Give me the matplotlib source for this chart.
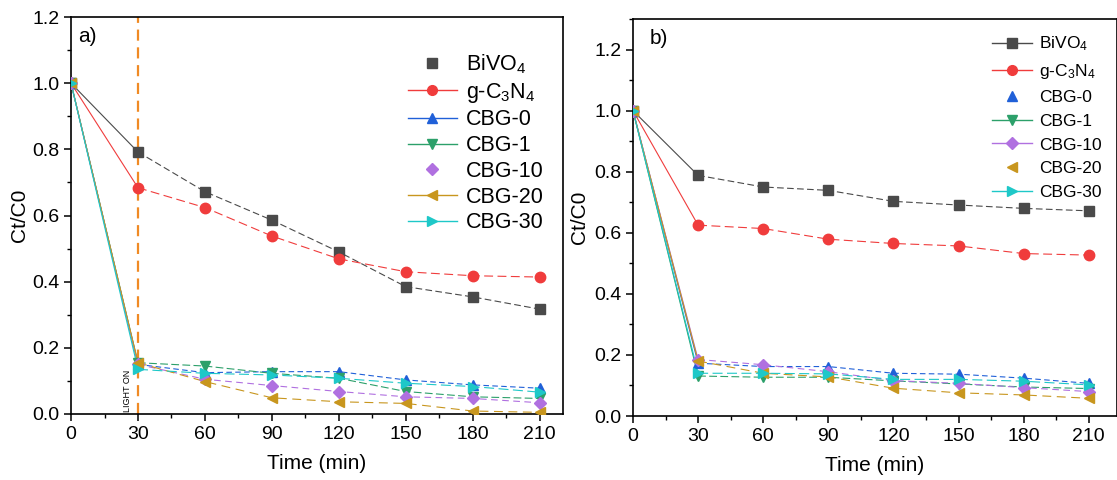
import matplotlib
matplotlib.use("Agg")
import matplotlib.pyplot as plt
from matplotlib.ticker import MultipleLocator
from matplotlib.lines import Line2D

plt.rcParams['font.family'] = ['Liberation Sans', 'DejaVu Sans']
plt.rcParams['mathtext.fontset'] = 'custom'
plt.rcParams['mathtext.rm'] = 'Liberation Sans'
plt.rcParams['mathtext.it'] = 'Liberation Sans:italic'

time = [0, 30, 60, 90, 120, 150, 180, 210]
labels = ["BiVO$_4$", "g-C$_3$N$_4$", "CBG-0", "CBG-1", "CBG-10", "CBG-20", "CBG-30"]

# Panel a
a_bivo4 = [1.0, 0.792, 0.672, 0.586, 0.490, 0.385, 0.354, 0.317]
a_gcn   = [1.0, 0.684, 0.624, 0.538, 0.469, 0.430, 0.418, 0.414]
a_cbg0  = [1.0, 0.150, 0.125, 0.128, 0.128, 0.103, 0.088, 0.078]
a_cbg1  = [1.0, 0.155, 0.145, 0.123, 0.108, 0.068, 0.052, 0.047]
a_cbg10 = [1.0, 0.150, 0.105, 0.086, 0.068, 0.052, 0.047, 0.034]
a_cbg20 = [1.0, 0.155, 0.098, 0.049, 0.037, 0.032, 0.009, 0.005]
a_cbg30 = [1.0, 0.135, 0.123, 0.118, 0.108, 0.093, 0.083, 0.066]

# Panel b
b_bivo4 = [1.0, 0.788, 0.750, 0.739, 0.703, 0.691, 0.680, 0.672]
b_gcn   = [1.0, 0.625, 0.614, 0.579, 0.565, 0.557, 0.532, 0.527]
b_cbg0  = [1.0, 0.173, 0.162, 0.162, 0.140, 0.137, 0.124, 0.107]
b_cbg1  = [1.0, 0.131, 0.127, 0.127, 0.115, 0.105, 0.095, 0.090]
b_cbg10 = [1.0, 0.185, 0.168, 0.145, 0.116, 0.107, 0.093, 0.080]
b_cbg20 = [1.0, 0.180, 0.140, 0.128, 0.091, 0.076, 0.069, 0.058]
b_cbg30 = [1.0, 0.140, 0.140, 0.138, 0.120, 0.120, 0.114, 0.102]

colors = ["#4a4a4a", "#f03c3c", "#2060d8", "#2ca06a", "#b070e0", "#c8961e", "#1ec8c8"]
markers = ["s", "o", "^", "v", "D", "<", ">"]
msizes = [6.5, 7.5, 7.5, 7.5, 6.5, 7.5, 7.5]
dashes = [(6, 3), (8, 4), (5, 3), (7, 3), (6, 4), (8, 5), (9, 4)]

fig = plt.figure(figsize=(11.17, 4.8), dpi=100)
axa = fig.add_axes([0.0636, 0.1375, 0.4405, 0.827])
axb = fig.add_axes([0.5667, 0.1333, 0.4333, 0.827])

def draw(ax, series):
    for y, c, m, ms, d in zip(series, colors, markers, msizes, dashes):
        ax.plot(time[:2], y[:2], color=c, lw=0.8, zorder=2)
        ax.plot(time[1:], y[1:], color=c, lw=0.8, dashes=d, zorder=2)
        ax.plot(time, y, color=c, ls="none", marker=m, ms=ms, zorder=3)

draw(axa, [a_bivo4, a_gcn, a_cbg0, a_cbg1, a_cbg10, a_cbg20, a_cbg30])
draw(axb, [b_bivo4, b_gcn, b_cbg0, b_cbg1, b_cbg10, b_cbg20, b_cbg30])

axa.axvline(30, color="#f08a24", ls=(0, (5, 3)), lw=1.6, zorder=1)
axa.text(25.5, 0.005, "LIGHT ON", rotation=90, fontsize=6.5, ha="center", va="bottom")

for ax, ylim, tag in [(axa, (0, 1.2), "a)"), (axb, (0, 1.3), "b)")]:
    ax.set_xlim(0, 220.5 if ax is axa else 223)
    ax.set_ylim(*ylim)
    ax.xaxis.set_major_locator(MultipleLocator(30))
    ax.xaxis.set_minor_locator(MultipleLocator(15))
    ax.yaxis.set_major_locator(MultipleLocator(0.2))
    ax.yaxis.set_minor_locator(MultipleLocator(0.1))
    ax.yaxis.set_major_formatter(plt.FormatStrFormatter("%.1f"))
    ax.tick_params(which="major", direction="out", length=5, width=1.1, labelsize=14)
    ax.tick_params(which="minor", direction="out", length=3, width=1.0)
    for s in ax.spines.values():
        s.set_linewidth(1.2)
    ax.set_xlabel("Time (min)", fontsize=15)
    ax.set_ylabel("Ct/C0", fontsize=15)
    ax.text(0.015 if ax is axa else 0.035, 0.975, tag, transform=ax.transAxes,
            fontsize=15, ha="left", va="top")

axa.yaxis.set_label_coords(-0.085, 0.5)
axb.yaxis.set_label_coords(-0.09, 0.5)
axa.xaxis.set_label_coords(0.5, -0.1)
axb.xaxis.set_label_coords(0.5, -0.1)

def handles(noline):
    hs = []
    for i, (c, m) in enumerate(zip(colors, markers)):
        hs.append(Line2D([], [], color=c, marker=m, ms=7 if m != "D" else 6,
                         lw=1.0, ls="none" if i in noline else "-"))
    return hs

axa.legend(handles(noline=[0, 4]), labels, loc="upper right", frameon=False,
           fontsize=15.5, handlelength=2.3, handletextpad=0.4, labelspacing=0.22,
           bbox_to_anchor=(1.0, 0.96))
axb.legend(handles(noline=[2, 5]), labels, loc="upper right", frameon=False,
           fontsize=12.5, handlelength=2.3, handletextpad=0.4, labelspacing=0.5,
           bbox_to_anchor=(1.0, 1.0))

fig.savefig("out.png", dpi=100)
